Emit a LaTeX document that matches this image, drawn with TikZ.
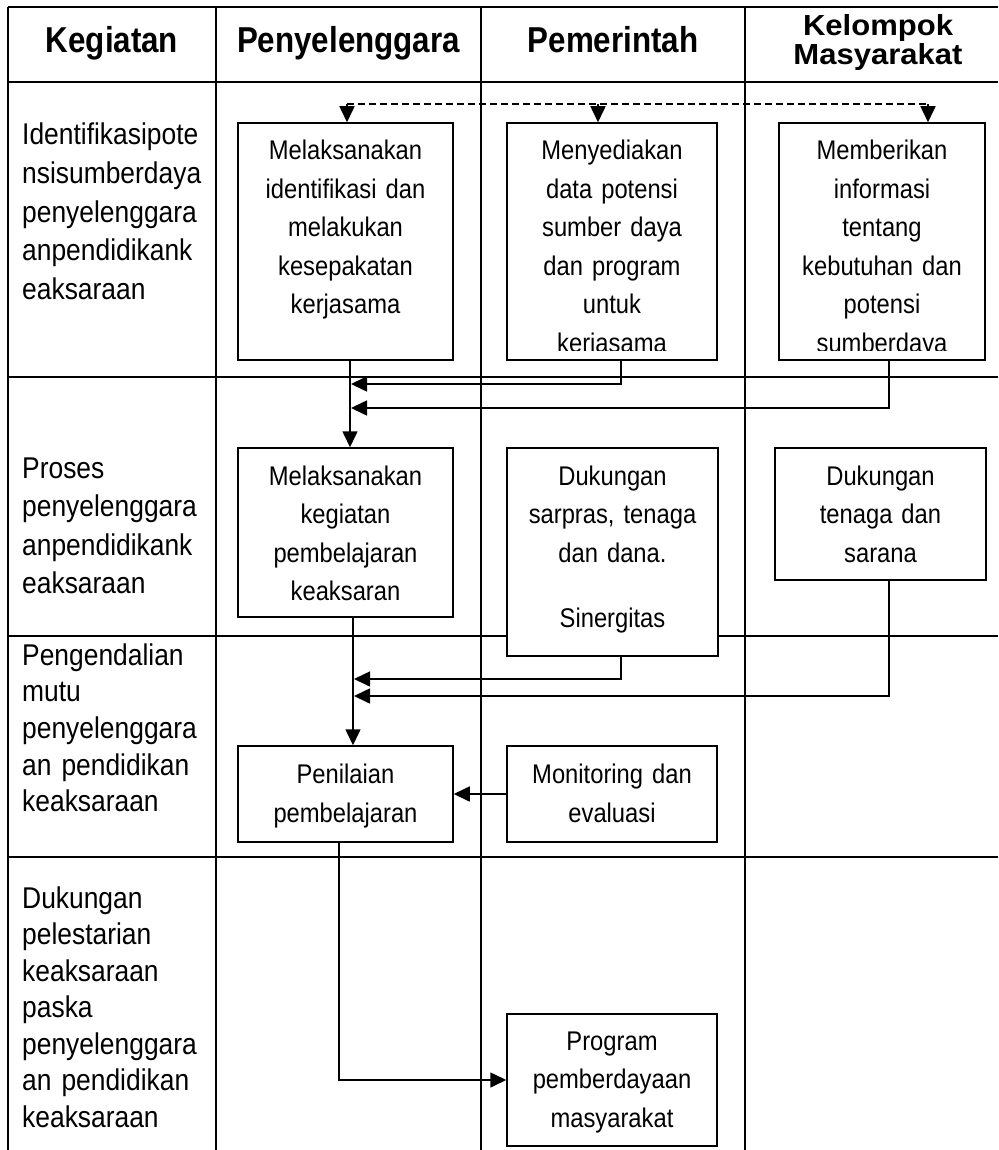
\documentclass[tikz,border=0pt]{standalone}
\usepackage{fontspec}
\usetikzlibrary{arrows.meta}
\newfontfamily\bodyfont[FakeStretch=0.88,WordSpace=0.8]{Liberation Sans}
\newfontfamily\hdfont[FakeStretch=0.87]{Liberation Sans}
\newfontfamily\hdfontw[FakeStretch=1.07]{Liberation Sans}
\begin{document}
\begin{tikzpicture}[x=1pt,y=-1pt,
  grid/.style={line width=1.1pt},
  box/.style={draw, line width=1.5pt, fill=white, inner sep=0pt, rectangle},
  btxt/.style={anchor=base, inner sep=0pt, text width=200pt, align=center, font=\bodyfont\fontsize{27}{38.5}\selectfont},
  ltxt/.style={anchor=base west, inner sep=0pt, text width=200pt, align=left, font=\bodyfont\fontsize{30}{38.6}\selectfont},
  htxt/.style={anchor=base, inner sep=0pt, font=\hdfont\bfseries\fontsize{36}{40}\selectfont},
  htxtw/.style={anchor=base, inner sep=0pt, text width=240pt, align=center, font=\hdfontw\bfseries\fontsize{29}{28.5}\selectfont},
  arr/.style={line width=1.6pt, -{Triangle[length=16pt,width=15pt]}},
  dsh/.style={line width=1.4pt, dash pattern=on 7pt off 4pt}
]
\useasboundingbox (0,0) rectangle (998,1150);
% table grid
\draw[grid] (8,7) -- (998,7);
\draw[grid] (8,82) -- (998,82);
\draw[grid] (8,377) -- (998,377);
\draw[grid] (8,636) -- (998,636);
\draw[grid] (8,857) -- (998,857);
\draw[grid] (8,7) -- (8,1150);
\draw[grid] (216,7) -- (216,1150);
\draw[grid] (481,7) -- (481,1150);
\draw[grid] (745,7) -- (745,1150);
% headers
\node[htxt] (h1) at (112,53) {Kegiatan};
\node[htxt] (h2) at (348.5,53) {Penyelenggara};
\node[htxt] (h3) at (613,53) {Pemerintah};
\node[htxtw] (h4) at (878,36) {Kelompok\\Masyarakat};
% left column
\node[ltxt] (l1) at (22,145) {Identifikasipote\\nsisumberdaya\\penyelenggara\\anpendidikank\\eaksaraan};
\node[ltxt] (l2) at (22,478) {Proses\\penyelenggara\\anpendidikank\\eaksaraan};
\node[ltxt, font=\bodyfont\fontsize{30}{36.7}\selectfont] (l3) at (22,665) {Pengendalian\\mutu\\penyelenggara\\an pendidikan\\keaksaraan};
\node[ltxt, font=\bodyfont\fontsize{30}{36.5}\selectfont] (l4) at (22,908) {Dukungan\\pelestarian\\keaksaraan\\paska\\penyelenggara\\an pendidikan\\keaksaraan};
% boxes
\node[box, minimum width=215pt, minimum height=237pt] (a1) at (345.5,241.5) {};
\node[box, minimum width=210pt, minimum height=237pt] (a2) at (612,241.5) {};
\node[box, minimum width=206pt, minimum height=237pt] (a3) at (882,241.5) {};
\node[box, minimum width=215pt, minimum height=169pt] (b1) at (345.5,532.5) {};
\node[box, minimum width=211pt, minimum height=208pt] (b2) at (612.5,552) {};
\node[box, minimum width=211pt, minimum height=132pt] (b3) at (880.5,514) {};
\node[box, minimum width=215pt, minimum height=96pt] (c1) at (345.5,794) {};
\node[box, minimum width=210pt, minimum height=96pt] (c2) at (612,794) {};
\node[box, minimum width=210pt, minimum height=132pt] (d) at (612,1080) {};
% box texts
\node[btxt] (a1t) at (345.5,160) {Melaksanakan\\identifikasi dan\\melakukan\\kesepakatan\\kerjasama};
\begin{scope}
\clip (a2.north west) rectangle ([yshift=10pt]a2.south east);
\node[btxt] (a2t) at (612,160) {Menyediakan\\data potensi\\sumber daya\\dan program\\untuk\\kerjasama};
\end{scope}
\begin{scope}
\clip (a3.north west) rectangle ([yshift=10pt]a3.south east);
\node[btxt] (a3t) at (882,160) {Memberikan\\informasi\\tentang\\kebutuhan dan\\potensi\\sumberdaya};
\end{scope}
\node[btxt] (b1t) at (345.5,485) {Melaksanakan\\kegiatan\\pembelajaran\\keaksaran};
\node[btxt] (b2t) at (612.5,485) {Dukungan\\sarpras, tenaga\\dan dana.\\[26.5pt]Sinergitas};
\node[btxt] (b3t) at (880.5,485) {Dukungan\\tenaga dan\\sarana};
\node[btxt, font=\bodyfont\fontsize{27}{39}\selectfont] (c1t) at (345.5,783) {Penilaian\\pembelajaran};
\node[btxt, font=\bodyfont\fontsize{27}{39}\selectfont] (c2t) at (612,783) {Monitoring dan\\evaluasi};
\node[btxt] (dt) at (612,1050) {Program\\pemberdayaan\\masyarakat};
% dashed distribution line
\coordinate (dl) at (347,104);
\coordinate (dm) at (598,104);
\coordinate (dr) at (928,104);
\draw[dsh] (dl) -- (dr);
\draw[arr] (dl) -- (dl |- a1.north);
\draw[arr] (dm) -- (dm |- a2.north);
\draw[arr] (dr) -- (dr |- a3.north);
% row 1 to row 2
\coordinate (j1) at (351,384);
\coordinate (j2) at (351,408);
\draw[arr] ([xshift=4.5pt]a1.south) -- ([xshift=4.5pt]a1.south |- b1.north);
\draw[arr] ([xshift=9pt]a2.south) |- (j1);
\draw[arr] ([xshift=7pt]a3.south) |- (j2);
% row 2 to row 3
\coordinate (k1) at (354,679);
\coordinate (k2) at (354,696);
\draw[arr] ([xshift=7.5pt]b1.south) -- ([xshift=7.5pt]b1.south |- c1.north);
\draw[arr] ([xshift=8.5pt]b2.south) |- (k1);
\draw[arr] ([xshift=8.5pt]b3.south) |- (k2);
\draw[arr] (c2.west) -- (c1.east);
% row 3 to row 4
\draw[arr] ([xshift=-6.5pt]c1.south) |- (d.west);
\end{tikzpicture}
\end{document}
